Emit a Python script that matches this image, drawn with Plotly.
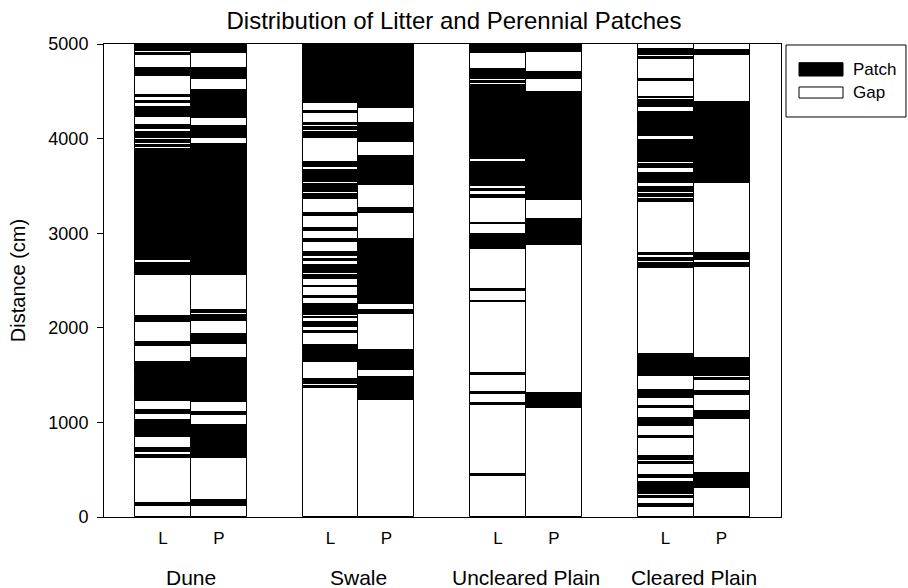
import plotly.graph_objects as go

# ---------------- data (cm boundaries, bottom -> top; segments alternate Gap, Patch, Gap, ...) ----------------
groups = ["Dune", "Swale", "Uncleared Plain", "Cleared Plain"]
sub_labels = ["L", "P"]

dune_L = [0, 116, 151, 627, 655, 690, 733, 849, 885, 902, 937, 955, 990, 1007, 1025, 1086, 1131,
          1226, 1245, 1255, 1393, 1403, 1445, 1455, 1490, 1501, 1635, 1811, 1847, 2060, 2100, 2114,
          2128, 2558, 2629, 2646, 2682, 2716, 3893, 3914, 3929, 3950, 3985, 4003, 4073, 4098, 4143,
          4231, 4330, 4379, 4400, 4436, 4461, 4662, 4704, 4718, 4742, 4883, 4908, 4922, 4943, 4958, 5000]
dune_P = [0, 120, 180, 627, 832, 849, 973, 1078, 1113, 1219, 1677, 1829, 1931, 2072, 2135, 2153,
          2188, 2558, 3895, 3905, 3943, 4003, 4136, 4214, 4513, 4627, 4742, 4901, 5000]
swale_L = [0, 1367, 1385, 1403, 1424, 1437, 1455, 1640, 1655, 1665, 1700, 1712, 1731, 1741, 1773,
           1783, 1818, 1941, 1969, 2011, 2064, 2100, 2117, 2135, 2248, 2318, 2336, 2428, 2445, 2516,
           2560, 2576, 2660, 2706, 2724, 2759, 2798, 2910, 2938, 3023, 3052, 3185, 3210, 3358, 3414,
           3439, 3520, 3544, 3668, 3703, 3756, 4003, 4073, 4091, 4119, 4140, 4168, 4267, 4295, 4373, 5000]
swale_P = [0, 1237, 1483, 1554, 1762, 2143, 2188, 2248, 2935, 3210, 3263, 3509, 3819, 3967, 4161,
           4320, 5000]
uncleared_L = [0, 437, 451, 1184, 1208, 1297, 1324, 1504, 1519, 2273, 2287, 2392, 2407, 2830, 2946,
               2963, 2991, 3094, 3111, 3369, 3400, 3446, 3467, 3499, 3580, 3597, 3756, 3781, 3795,
               3809, 4538, 4549, 4570, 4591, 4612, 4627, 4735, 4908, 5000]
uncleared_P = [0, 1149, 1307, 2875, 3147, 3351, 4489, 4627, 4707, 4915, 5000]
cleared_L = [0, 103, 134, 204, 225, 243, 261, 275, 367, 415, 444, 557, 578, 602, 648, 832, 856, 962,
             1043, 1149, 1173, 1255, 1307, 1324, 1342, 1490, 1723, 2629, 2688, 2709, 2734, 2769,
             2787, 3333, 3361, 3379, 3414, 3439, 3485, 3534, 3640, 3686, 3731, 3756, 3985, 4031,
             4119, 4136, 4284, 4337, 4373, 4390, 4408, 4425, 4443, 4609, 4627, 4838, 4859, 4883,
             4943, 5000]
cleared_P = [0, 310, 468, 1036, 1120, 1290, 1335, 1448, 1466, 1494, 1508, 1525, 1677, 2646, 2682,
             2716, 2787, 3527, 4383, 4883, 4936, 5000]

columns = [
    (0, "L", dune_L), (0, "P", dune_P),
    (1, "L", swale_L), (1, "P", swale_P),
    (2, "L", uncleared_L), (2, "P", uncleared_P),
    (3, "L", cleared_L), (3, "P", cleared_P),
]

# ---------------- layout constants ----------------
OFFSET = 0.167
BAR_W = 0.334
FONT = "Liberation Sans, Arial, sans-serif"

gap_x, gap_base, gap_len = [], [], []
pat_x, pat_base, pat_len = [], [], []
tick_vals, tick_text = [], []
for g, sub, b in columns:
    xpos = g - OFFSET if sub == "L" else g + OFFSET
    tick_vals.append(xpos)
    tick_text.append(sub)
    for i in range(len(b) - 1):
        if i % 2 == 0:
            gap_x.append(xpos); gap_base.append(b[i]); gap_len.append(b[i + 1] - b[i])
        else:
            pat_x.append(xpos); pat_base.append(b[i]); pat_len.append(b[i + 1] - b[i])

fig = go.Figure()
fig.add_trace(go.Bar(name="Gap", x=gap_x, y=gap_len, base=gap_base, width=BAR_W,
                     marker=dict(color="white", line=dict(color="black", width=1)),
                     showlegend=False, hoverinfo="skip"))
fig.add_trace(go.Bar(name="Patch", x=pat_x, y=pat_len, base=pat_base, width=BAR_W,
                     marker=dict(color="black", line=dict(color="black", width=1)),
                     showlegend=False, hoverinfo="skip"))

# group labels
for gi, name in enumerate(groups):
    fig.add_annotation(x=gi, y=0, xref="x", yref="paper", yshift=-60, yanchor="middle",
                       text=name, showarrow=False, font=dict(size=21, family=FONT, color="black"))

# custom legend (box, swatches, labels)
fig.add_shape(type="rect", xref="paper", yref="paper", x0=1.0074, x1=1.1846, y0=0.8457, y1=0.9979,
              line=dict(color="black", width=1), fillcolor="white")
fig.add_shape(type="rect", xref="paper", yref="paper", x0=1.0266, x1=1.0916, y0=0.9323, y1=0.9605,
              line=dict(color="black", width=1), fillcolor="black")
fig.add_shape(type="rect", xref="paper", yref="paper", x0=1.0266, x1=1.0916, y0=0.8858, y1=0.9091,
              line=dict(color="black", width=1), fillcolor="white")
fig.add_annotation(x=1.1034, y=0.9464, xref="paper", yref="paper", xanchor="left", yanchor="middle",
                   text="Patch", showarrow=False, font=dict(size=17, family=FONT, color="black"))
fig.add_annotation(x=1.1034, y=0.8975, xref="paper", yref="paper", xanchor="left", yanchor="middle",
                   text="Gap", showarrow=False, font=dict(size=17, family=FONT, color="black"))

fig.update_layout(
    width=908, height=588,
    margin=dict(l=104, r=127, t=44, b=71),
    barmode="overlay",
    bargap=0,
    plot_bgcolor="white", paper_bgcolor="white",
    font=dict(family=FONT, color="black"),
    title=dict(text="Distribution of Litter and Perennial Patches", x=0.5, xref="container",
               xanchor="center", y=1 - 21 / 588, yref="container", yanchor="middle",
               font=dict(size=24, family=FONT, color="black")),
    xaxis=dict(range=[-0.519, 3.522], tickvals=tick_vals, ticktext=tick_text, ticks="",
               ticklabelstandoff=6,
               showline=True, mirror=True, linecolor="black", linewidth=1, showgrid=False,
               zeroline=False, tickfont=dict(size=17, family=FONT, color="black"),
               fixedrange=True),
    yaxis=dict(range=[0, 5000], tickvals=[0, 1000, 2000, 3000, 4000, 5000], ticks="outside",
               ticklen=6, tickcolor="black", ticklabelstandoff=5,
               showline=True, mirror=True, linecolor="black",
               linewidth=1, showgrid=False, zeroline=False,
               tickfont=dict(size=18, family=FONT, color="black"),
               title=dict(text="Distance (cm)", font=dict(size=20, family=FONT, color="black"),
                          standoff=17),
               fixedrange=True),
)

fig.write_html("out.html")
